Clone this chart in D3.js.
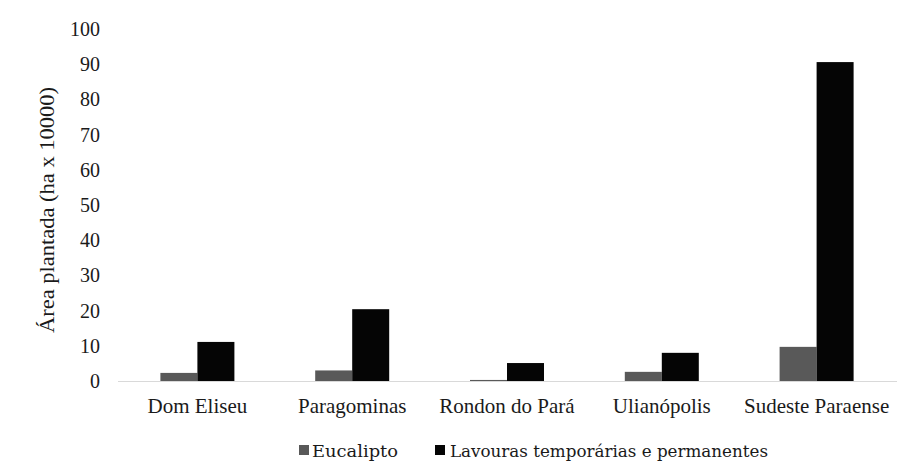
<!DOCTYPE html>
<html><head><meta charset="utf-8">
<script src="https://cdn.jsdelivr.net/npm/d3@7"></script>
<style>body{margin:0;background:#fff}svg{display:block}
svg text{font-family:"Liberation Serif", "Times New Roman", serif;}
svg text.leg{font-family:"DejaVu Serif", serif;}
</style>
</head><body>
<svg id="c" width="916" height="464"></svg>
<script>
const categories = ["Dom Eliseu", "Paragominas", "Rondon do Pará", "Ulianópolis", "Sudeste Paraense"];
const seriesNames = ["Eucalipto", "Lavouras temporárias e permanentes"];
const eucalipto = [2.3, 3.0, 0.3, 2.6, 9.7];
const lavouras = [11.1, 20.4, 5.1, 8.0, 90.6];
const yTicks = [0, 10, 20, 30, 40, 50, 60, 70, 80, 90, 100];
const colors = ["#595959", "#050505"];

(function(){
const svg = d3.select("#c");
const pLeft = 120, pRight = 894, pTop = 29, pBottom = 381;
const x0 = d3.scaleBand().domain(categories).range([pLeft, pRight]).padding(0);
const x1 = d3.scaleBand().domain(seriesNames).range([x0.bandwidth()/2 - 37, x0.bandwidth()/2 + 37]).padding(0);
const y = d3.scaleLinear().domain([0, 100]).range([pBottom, pTop]);
const color = d3.scaleOrdinal().domain(seriesNames).range(colors);

const data = categories.map((c, i) => ({cat: c, vals: [
  {s: seriesNames[0], v: eucalipto[i]}, {s: seriesNames[1], v: lavouras[i]}]}));

const g = svg.append("g").selectAll("g").data(data).join("g")
  .attr("transform", d => `translate(${x0(d.cat)},0)`);
g.selectAll("rect").data(d => d.vals).join("rect")
  .attr("x", d => x1(d.s)).attr("width", x1.bandwidth())
  .attr("y", d => y(d.v)).attr("height", d => y(0) - y(d.v))
  .attr("fill", d => color(d.s));

// baseline
svg.append("line").attr("x1", pLeft - 2).attr("x2", pRight + 3)
  .attr("y1", y(0) + 0.5).attr("y2", y(0) + 0.5)
  .attr("stroke", "#d9d9d9").attr("stroke-width", 1.2);

// y axis
const yAxis = svg.append("g").attr("transform", `translate(${pLeft - 20},0)`)
  .call(d3.axisLeft(y).tickValues(yTicks).tickSize(0).tickPadding(0));
yAxis.select(".domain").remove();
yAxis.attr("font-family", null);
yAxis.selectAll("text").attr("font-size", 20).attr("fill", "#1a1a1a");

// x axis labels
const xAxis = svg.append("g").attr("transform", `translate(0,${pBottom})`)
  .call(d3.axisBottom(x0).tickSize(0).tickPadding(0));
xAxis.select(".domain").remove();
xAxis.attr("font-family", null);
xAxis.selectAll("text").attr("dy", null).attr("y", 32)
  .attr("font-size", 21).attr("fill", "#1a1a1a");

// y label
svg.append("text").attr("transform", "translate(54,210) rotate(-90)")
  .attr("text-anchor", "middle").attr("font-size", 21)
  .attr("fill", "#1a1a1a").attr("textLength", 246).attr("lengthAdjust", "spacingAndGlyphs")
  .text("Área plantada (ha x 10000)");

// legend
const legItems = [
  {name: seriesNames[0], mx: 299, tx: 312, tw: 86},
  {name: seriesNames[1], mx: 435, tx: 450, tw: 318}
];
const leg = svg.append("g");
leg.selectAll("rect").data(legItems).join("rect")
  .attr("x", d => d.mx).attr("y", 445).attr("width", 10).attr("height", 10)
  .attr("fill", d => color(d.name));
leg.selectAll("text").data(legItems).join("text").attr("class", "leg")
  .attr("x", d => d.tx).attr("y", 457)
  .attr("font-size", 17).attr("fill", "#1a1a1a")
  .attr("textLength", d => d.tw).attr("lengthAdjust", "spacingAndGlyphs")
  .text(d => d.name);
})();
</script>
</body></html>
